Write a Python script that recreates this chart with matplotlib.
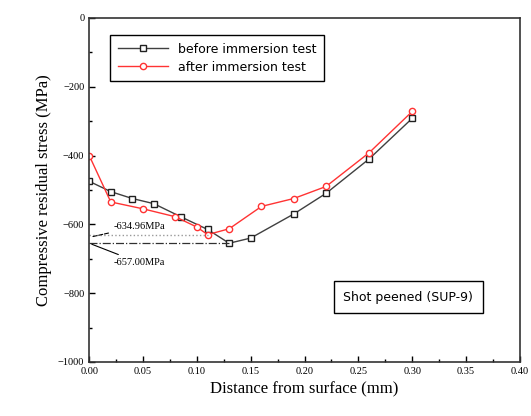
import matplotlib.pyplot as plt

# before immersion test
x_before = [0.0, 0.02, 0.04, 0.06, 0.085, 0.11, 0.13, 0.15, 0.19, 0.22, 0.26, 0.30]
y_before = [-475, -505, -525, -540, -578, -615, -655, -640, -570, -510, -410, -292]

# after immersion test
x_after = [0.0, 0.02, 0.05, 0.08, 0.10, 0.11, 0.13, 0.16, 0.19, 0.22, 0.26, 0.30]
y_after = [-400, -535, -555, -578, -608, -630, -613, -548, -525, -490, -392, -272]

min_after = -634.96
min_before = -657.00

plt.rcParams['font.family'] = 'Liberation Serif'

fig = plt.figure(figsize=(5.31, 4.16), dpi=100)
ax = fig.add_axes([0.168, 0.13, 0.811, 0.827])

ax.plot(x_before, y_before, color='#404040', lw=1, marker='s', ms=4.5,
        mfc='white', mec='#202020', mew=1, label='before immersion test')
ax.plot(x_after, y_after, color='#ff3333', lw=1, marker='o', ms=4.5,
        mfc='white', mec='#ff3333', mew=1, label='after immersion test')

# minimum lines
ax.plot([0, 0.11], [min_after + 5, min_after + 5], color='#999999', lw=1, ls=':')
ax.plot([0, 0.13], [min_before + 3, min_before + 3], color='#303030', lw=0.9, ls='-.')

ax.annotate('%.2fMPa' % min_after, xy=(0, -638), xytext=(0.023, -605),
            fontsize=7.5, va='center',
            arrowprops=dict(arrowstyle='-', color='black', lw=0.8, ls='--'))
ax.annotate('%.2fMPa' % min_before, xy=(0, -655), xytext=(0.023, -712),
            fontsize=7.5, va='center',
            arrowprops=dict(arrowstyle='-', color='black', lw=0.8))

ax.text(0.2965, -812, 'Shot peened (SUP-9)', fontsize=9, family='DejaVu Sans',
        ha='center', va='center',
        bbox=dict(boxstyle='square,pad=0.75', fc='white', ec='black', lw=1))

ax.set_xlim(0, 0.40)
ax.set_ylim(-1000, 0)
ax.set_xticks([0, 0.05, 0.10, 0.15, 0.20, 0.25, 0.30, 0.35, 0.40])
ax.set_xticks([0.025, 0.075, 0.125, 0.175, 0.225, 0.275, 0.325, 0.375], minor=True)
ax.set_yticks([0, -200, -400, -600, -800, -1000])
ax.set_yticks([-100, -300, -500, -700, -900], minor=True)
ax.tick_params(which='both', direction='in', labelsize=7.5, width=1)
ax.tick_params(which='major', length=4)
ax.tick_params(which='minor', length=2.5)
for s in ax.spines.values():
    s.set_linewidth(1.2)
    s.set_color('#333333')

ax.set_xlabel('Distance from surface (mm)', fontsize=12)
ax.set_ylabel('Compressive residual stress (MPa)', fontsize=12)

leg = ax.legend(loc='upper left', bbox_to_anchor=(0.049, 0.95), borderaxespad=0,
                prop={'family': 'DejaVu Sans', 'size': 9}, fancybox=False,
                edgecolor='black', framealpha=1, handlelength=4,
                borderpad=0.6, labelspacing=0.4)
leg.get_frame().set_linewidth(1)

fig.savefig('out.png', dpi=100)
